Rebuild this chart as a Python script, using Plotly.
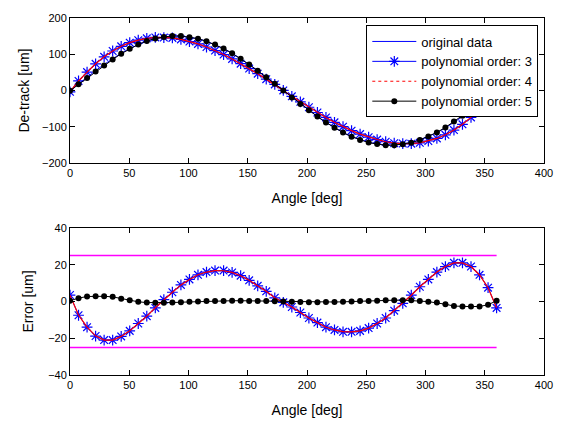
import plotly.graph_objects as go

angle = [0, 7.2, 14.4, 21.6, 28.8, 36, 43.2, 50.4, 57.6, 64.8, 72, 79.2, 86.4, 93.6, 100.8,
         108, 115.2, 122.4, 129.6, 136.8, 144, 151.2, 158.4, 165.6, 172.8, 180, 187.2, 194.4,
         201.6, 208.8, 216, 223.2, 230.4, 237.6, 244.8, 252, 259.2, 266.4, 273.6, 280.8, 288,
         295.2, 302.4, 309.6, 316.8, 324, 331.2, 338.4, 345.6, 352.8, 360]

original = [0, 19, 37, 55, 72, 88, 103, 116, 127, 136, 143, 147, 150, 150, 147, 143, 136, 127,
            116, 103, 88, 72, 55, 37, 19, 0, -19, -37, -55, -72, -88, -103, -116, -127, -136,
            -143, -147, -150, -150, -147, -143, -136, -127, -116, -103, -88, -72, -55, -37, -19, 0]

fit3 = [-3.5, 26.5, 51, 73.8, 93, 109, 122, 132, 139, 144, 146.5, 146, 145, 141, 135, 128.5,
        120, 110.2, 99.2, 87.2, 74, 60.5, 46.5, 31.5, 17, 0.5, -16, -31, -46, -60.5, -74, -87.5,
        -99.5, -110.5, -120, -128.5, -135, -141, -145, -146, -146.5, -144, -139, -132, -122,
        -109, -93, -74, -51.5, -26.5, 3.5]

fit4 = [-3.4, 26.4, 51, 73.7, 93, 109, 122, 132, 139, 144, 146.4, 146, 145, 141, 135, 128.5,
        120, 110.2, 99.3, 87.2, 74, 60.5, 46.5, 31.5, 17, 0.4, -16, -31, -46, -60.5, -74, -87.5,
        -99.4, -110.5, -120, -128.5, -135, -141, -145, -146, -146.4, -144, -139, -132, -122,
        -109, -93, -74, -51.4, -26.5, 3.4]

fit5 = [-0.4, 17.2, 34.3, 52.2, 69.2, 85.5, 101.5, 115.4, 127.2, 136.6, 143.7, 147.7, 150.6,
        150.4, 147.2, 143, 135.8, 126.7, 115.7, 102.6, 87.6, 71.7, 54.7, 36.8, 18.9, 0, -18.8,
        -36.7, -54.6, -71.6, -87.7, -102.7, -115.8, -127, -136.2, -143.3, -147.4, -150.6,
        -150.7, -147.7, -143.6, -136.2, -126.9, -115.4, -101.5, -85.5, -69.2, -52.2, -34.3,
        -17.2, -0.4]

err3 = [3.5, -7.5, -14, -18.8, -21, -21, -19, -16, -12, -8, -3.5, 1, 5, 9, 12, 14.5, 16, 16.8,
        16.8, 15.8, 14, 11.5, 8.5, 5.5, 2, -0.5, -3, -6, -9, -11.5, -14, -15.5, -16.5, -16.5,
        -16, -14.5, -12, -9, -5, -1, 3.5, 8, 12, 16, 19, 21, 21, 19, 14.5, 7.5, -3.5]

err4 = [3.4, -7.4, -14, -18.7, -21, -21, -19, -16, -12, -8, -3.4, 1, 5, 9, 12, 14.5, 16, 16.8,
        16.7, 15.8, 14, 11.5, 8.5, 5.5, 2, -0.4, -3, -6, -9, -11.5, -14, -15.5, -16.4, -16.5,
        -16, -14.5, -12, -9, -5, -1, 3.4, 8, 12, 16, 19, 21, 21, 19, 14.4, 7.5, -3.4]

err5 = [0.4, 1.8, 2.7, 2.8, 2.8, 2.5, 1.5, 0.6, -0.2, -0.6, -0.7, -0.7, -0.6, -0.4, -0.2, 0,
        0.2, 0.3, 0.3, 0.4, 0.4, 0.3, 0.3, 0.2, 0.1, 0, -0.2, -0.3, -0.4, -0.4, -0.3, -0.3, -0.2,
        0, 0.2, 0.3, 0.4, 0.6, 0.7, 0.7, 0.6, 0.2, -0.1, -0.6, -1.5, -2.5, -2.8, -2.8, -2.7,
        -1.8, 0.4]

limit_x = [0, 360]
upper_limit = [25, 25]
lower_limit = [-25, -25]

series_names = ["original data", "polynomial order: 3", "polynomial order: 4",
                "polynomial order: 5"]

FONT = "Liberation Sans, Arial, sans-serif"
MAGENTA = "#ff00ff"
STAR = dict(symbol="asterisk-open", size=9, color="blue", line=dict(color="blue", width=1.2))
DOT = dict(symbol="circle", size=6, color="black")

fig = go.Figure()

# top panel
fig.add_trace(go.Scatter(x=angle, y=original, mode="lines", name=series_names[0],
                         line=dict(color="blue", width=1), xaxis="x", yaxis="y", legendrank=1))
fig.add_trace(go.Scatter(x=angle, y=fit3, mode="lines+markers", name=series_names[1],
                         line=dict(color="blue", width=1), marker=STAR, xaxis="x", yaxis="y",
                         legendrank=2))
fig.add_trace(go.Scatter(x=angle, y=fit4, mode="lines", name=series_names[2], showlegend=False,
                         line=dict(color="red", width=1.2), xaxis="x", yaxis="y"))
# legend entry for order 4 (dotted red, as in the legend of the original figure)
fig.add_trace(go.Scatter(x=[None], y=[None], mode="lines", name=series_names[2],
                         line=dict(color="red", width=1, dash="dot"), xaxis="x", yaxis="y",
                         legendrank=3))
fig.add_trace(go.Scatter(x=angle, y=fit5, mode="lines+markers", name=series_names[3],
                         line=dict(color="black", width=1), marker=DOT, xaxis="x", yaxis="y",
                         legendrank=4))

# bottom panel
fig.add_trace(go.Scatter(x=limit_x, y=upper_limit, mode="lines", showlegend=False,
                         line=dict(color=MAGENTA, width=1.6), xaxis="x2", yaxis="y2"))
fig.add_trace(go.Scatter(x=limit_x, y=lower_limit, mode="lines", showlegend=False,
                         line=dict(color=MAGENTA, width=1.6), xaxis="x2", yaxis="y2"))
fig.add_trace(go.Scatter(x=angle, y=err3, mode="lines+markers", showlegend=False,
                         line=dict(color="blue", width=1), marker=STAR, xaxis="x2", yaxis="y2"))
fig.add_trace(go.Scatter(x=angle, y=err4, mode="lines", showlegend=False,
                         line=dict(color="red", width=1.2), xaxis="x2", yaxis="y2"))
fig.add_trace(go.Scatter(x=angle, y=err5, mode="lines+markers", showlegend=False,
                         line=dict(color="black", width=1), marker=DOT, xaxis="x2", yaxis="y2"))

axis_common = dict(showline=True, linecolor="black", linewidth=1, mirror="ticks",
                   ticks="inside", ticklen=5, tickcolor="black", showgrid=False,
                   zeroline=False, tickfont=dict(family=FONT, size=11, color="black"))

fig.update_layout(
    width=565, height=427,
    paper_bgcolor="white", plot_bgcolor="white",
    margin=dict(l=70, r=19, t=13, b=45),
    font=dict(family=FONT, size=11, color="black"),
    xaxis=dict(domain=[0, 1], range=[0, 400], dtick=50, anchor="y",
               title=dict(text="Angle [deg]", font=dict(family=FONT, size=14), standoff=14),
               **axis_common),
    yaxis=dict(domain=[0.5935, 1], range=[-200, 200], dtick=100, anchor="x",
               title=dict(text="De-track [um]", font=dict(family=FONT, size=14), standoff=9),
               **axis_common),
    xaxis2=dict(domain=[0, 1], range=[0, 400], dtick=50, anchor="y2",
                title=dict(text="Angle [deg]", font=dict(family=FONT, size=14), standoff=14),
                **axis_common),
    yaxis2=dict(domain=[0, 0.412], range=[-40, 40], dtick=20, anchor="x2",
                title=dict(text="Error [um]", font=dict(family=FONT, size=14), standoff=11),
                **axis_common),
    legend=dict(x=0.988, y=0.979, xanchor="right", yanchor="top",
                bgcolor="white", bordercolor="black", borderwidth=1,
                font=dict(family=FONT, size=13, color="black"),
                itemwidth=44, tracegroupgap=0),
    showlegend=True,
)

fig.write_html("out.html", config={"displayModeBar": False},
               post_script="document.body.style.margin='0px';document.body.style.overflow='hidden';")
